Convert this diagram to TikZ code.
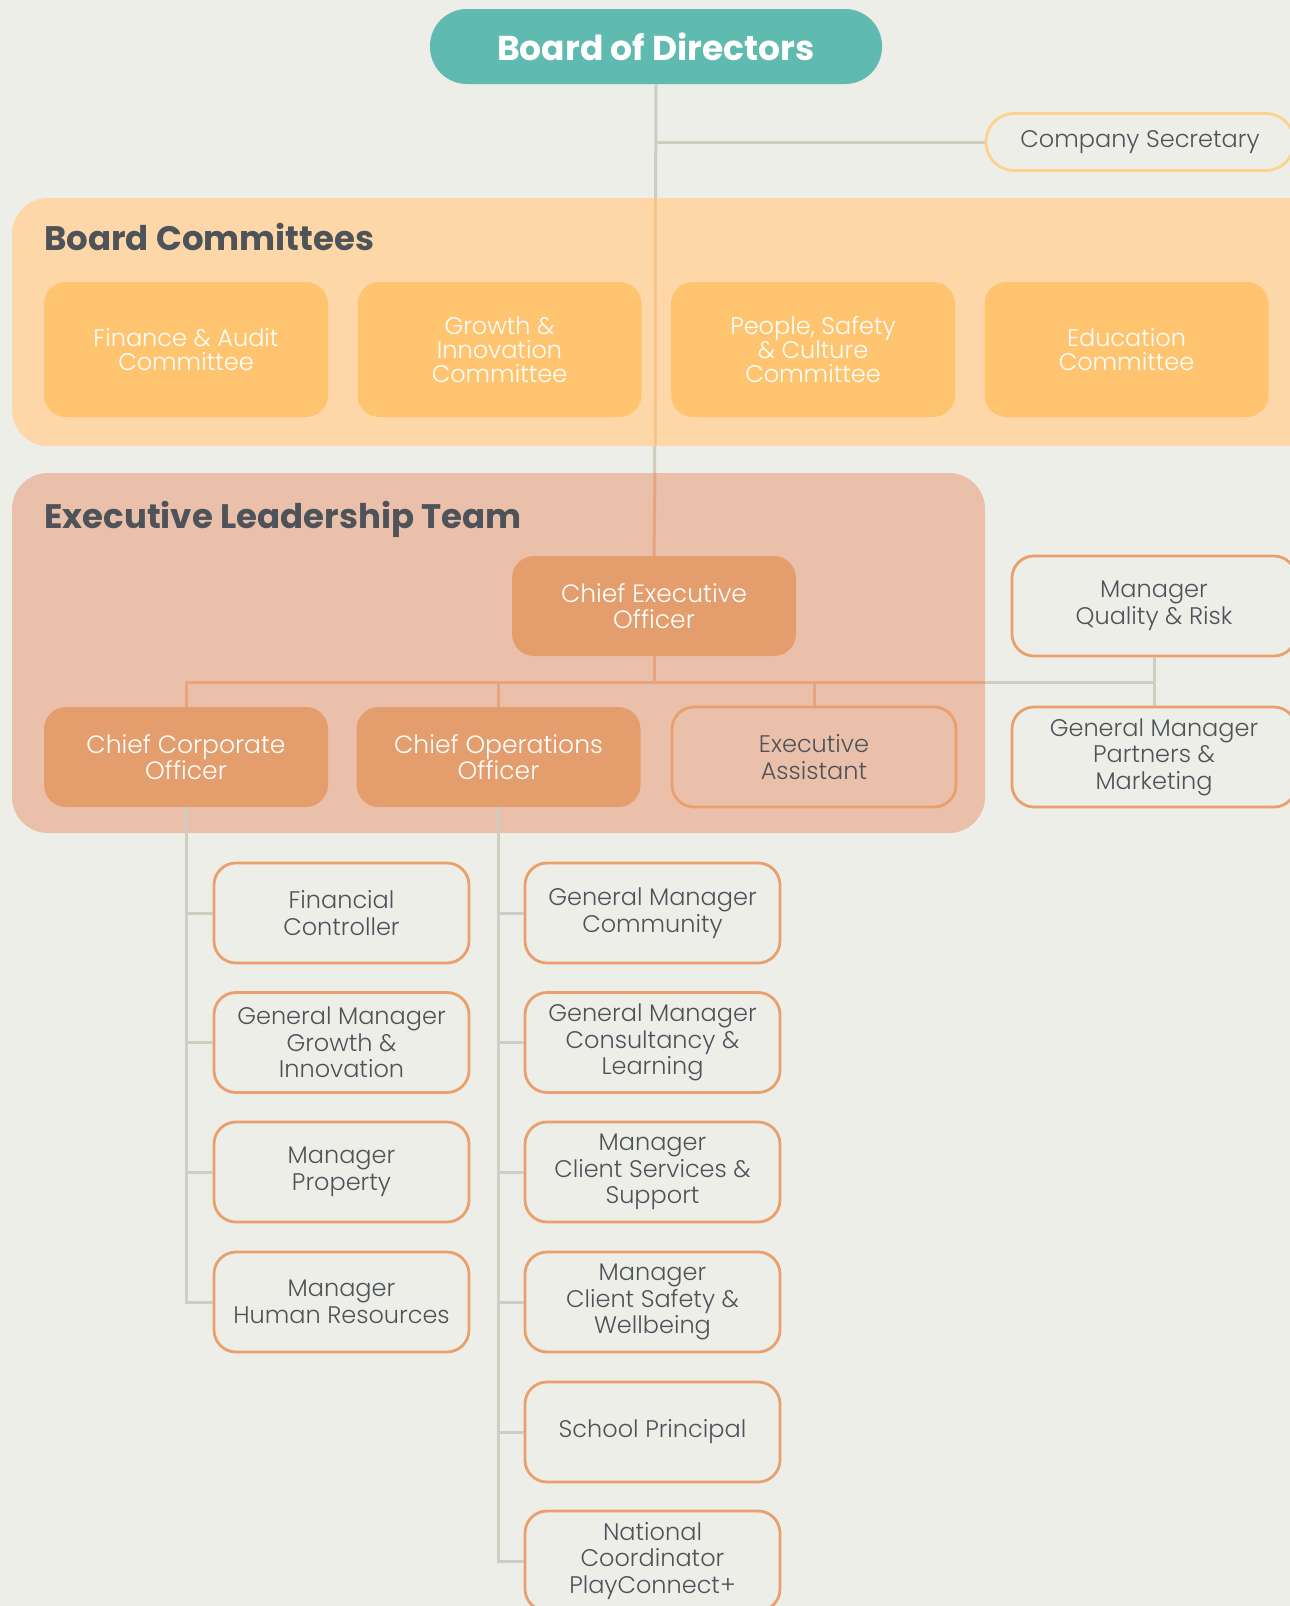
\documentclass[tikz,border=0pt]{standalone}
\usepackage{fontspec}
\setmainfont{Poppins}
\newfontfamily\lt{Poppins Light}
\definecolor{bg}{HTML}{EEEEE9}
\definecolor{teal}{HTML}{5FBAB0}
\definecolor{commpanel}{HTML}{FDD7A8}
\definecolor{commfill}{HTML}{FEC46F}
\definecolor{eltpanel}{HTML}{EBC0AA}
\definecolor{chieffill}{HTML}{E49E6E}
\definecolor{roleborder}{HTML}{E9A06C}
\definecolor{grayline}{HTML}{CFCCC0}
\definecolor{darktext}{HTML}{4E5359}
\definecolor{csborder}{HTML}{FDD28E}
\definecolor{commline}{HTML}{F6C58C}
\definecolor{eltline}{HTML}{E6A57F}
\begin{document}
\begin{tikzpicture}[x=1pt,y=-1pt,
  every node/.style={inner sep=0pt},
  committee/.style={fill=commfill, rounded corners=22pt, minimum width=284pt, minimum height=135pt, text=white, align=center, font=\lt\fontsize{24}{24}\selectfont},
  chief/.style={fill=chieffill, rounded corners=22pt, minimum width=284pt, minimum height=100pt, text=white, align=center, font=\lt\fontsize{25}{26}\selectfont},
  role/.style={draw=roleborder, line width=2.8pt, rounded corners=22pt, minimum width=284pt, minimum height=100pt, text=darktext, align=center, font=\lt\fontsize{24}{26.6}\selectfont},
  subrole/.style={role, minimum width=255pt},
  gline/.style={draw=grayline, line width=3pt},
  oline/.style={draw=eltline, line width=3pt},
  ctitle/.style={anchor=west, text=darktext, font=\bfseries\fontsize{34}{36}\selectfont}
]
\useasboundingbox (0,0) rectangle (1290,1606);
\fill[bg] (0,0) rectangle (1290,1606);

% top nodes
\node[fill=teal, rounded corners=37pt, minimum width=452pt, minimum height=75pt, text=white, font=\bfseries\fontsize{34.5}{36}\selectfont] (bod) at (656,46.5) {Board of Directors};
\node[draw=csborder, line width=2.8pt, rounded corners=28pt, minimum width=308pt, minimum height=57pt, text=darktext, font=\lt\fontsize{24}{27}\selectfont] (cs) at (1140,142) {Company Secretary};

\path (654,606) coordinate (ceoc);

% gray connectors under panels
\draw[gline] (bod.south) -- (ceoc);
\draw[gline] (bod.south |- cs.west) -- (cs.west);

% panels
\fill[commpanel, rounded corners=36pt] (12,198) rectangle (1330,446);
\fill[eltpanel, rounded corners=36pt] (12,473) rectangle (985,833);
\coordinate (commtop) at (655,198);
\coordinate (commbot) at (655,446);
\coordinate (elttop) at (655,473);
\draw[draw=commline, line width=3pt] (commtop) -- (commbot);

\node[ctitle] (bctitle) at (44,237) {Board Committees};
\node[ctitle] (elttitle) at (44,519) {Executive Leadership Team};

% committees
\node[committee] (c1) at (186,349.5) {Finance \& Audit\\Committee};
\node[committee] (c2) at (499.5,349.5) {Growth \&\\Innovation\\Committee};
\node[committee] (c3) at (813,349.5) {People, Safety\\\& Culture\\Committee};
\node[committee] (c4) at (1126.5,349.5) {Education\\Committee};

% executive leadership
\node[chief] (ceo) at (654,606) {Chief Executive\\Officer};
\draw[oline] (elttop) -- (ceo.north);
\node[chief] (cco) at (186,757) {Chief Corporate\\Officer};
\node[chief] (coo) at (498.5,757) {Chief Operations\\Officer};
\node[role] (ea) at (814,757) {Executive\\Assistant};

\node[role] (mqr) at (1154,606) {Manager\\Quality \& Risk};
\node[role] (gmpm) at (1154,757) {General Manager\\Partners \&\\Marketing};

\coordinate (hub) at (654,682);
\coordinate (eltedge) at (985,682);
\draw[oline] (ceo.south) -- (hub);
\draw[oline] (cco.north) |- (hub);
\draw[oline] (coo.north) -- (coo.north |- hub);
\draw[oline] (ea.north) -- (ea.north |- hub);
\draw[oline] (hub) -- (eltedge);
\draw[gline] (eltedge) -- (mqr.south |- hub);
\draw[gline] (mqr.south) -- (gmpm.north);

% lower left column
\node[subrole] (fc) at (341.5,913) {Financial\\Controller};
\node[subrole] (gmgi) at (341.5,1042.5) {General Manager\\Growth \&\\Innovation};
\node[subrole] (mp) at (341.5,1172) {Manager\\Property};
\node[subrole] (mhr) at (341.5,1302) {Manager\\Human Resources};

% lower right column
\node[subrole] (gmc) at (652.5,913) {General Manager\\Community};
\node[subrole] (gmcl) at (652.5,1042.5) {General Manager\\Consultancy \&\\Learning};
\node[subrole] (mcs) at (652.5,1172) {Manager\\Client Services \&\\Support};
\node[subrole] (mcsw) at (652.5,1302) {Manager\\Client Safety \&\\Wellbeing};
\node[subrole] (sp) at (652.5,1432) {School Principal};
\node[subrole] (nc) at (652.5,1561) {National\\Coordinator\\PlayConnect+};

\draw[gline] (cco.south) |- (mhr.west);
\draw[gline] (cco.south |- fc.west) -- (fc.west);
\draw[gline] (cco.south |- gmgi.west) -- (gmgi.west);
\draw[gline] (cco.south |- mp.west) -- (mp.west);

\draw[gline] (coo.south) |- (nc.west);
\draw[gline] (coo.south |- gmc.west) -- (gmc.west);
\draw[gline] (coo.south |- gmcl.west) -- (gmcl.west);
\draw[gline] (coo.south |- mcs.west) -- (mcs.west);
\draw[gline] (coo.south |- mcsw.west) -- (mcsw.west);
\draw[gline] (coo.south |- sp.west) -- (sp.west);
\end{tikzpicture}
\end{document}
